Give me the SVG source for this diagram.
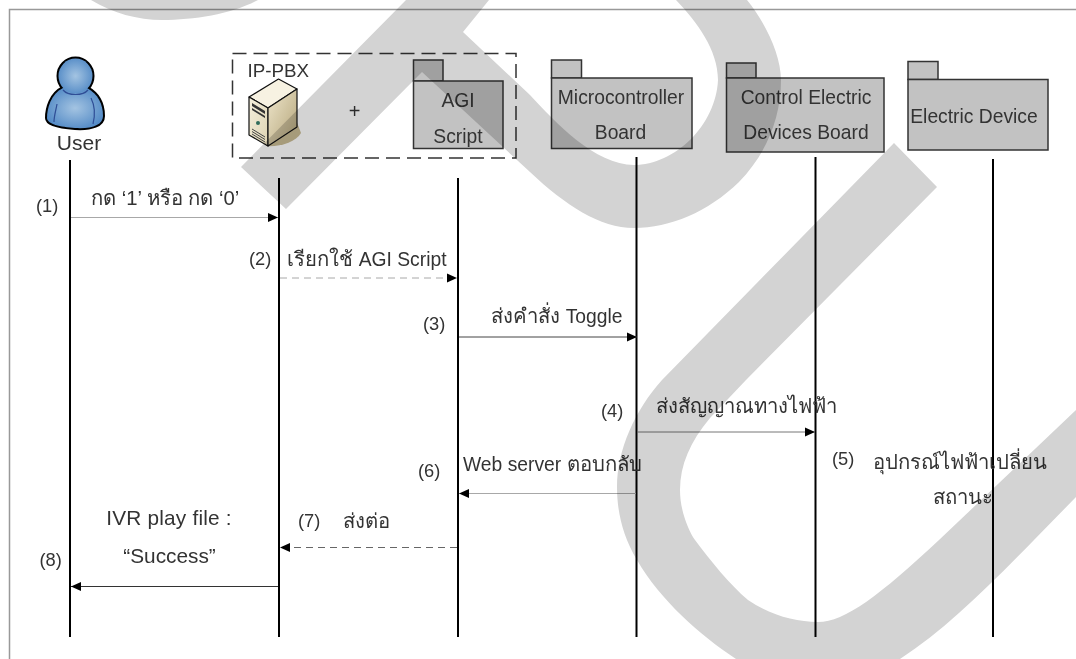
<svg xmlns="http://www.w3.org/2000/svg" width="1076" height="659" viewBox="0 0 1076 659">
<defs>
<style>
text{font-family:"Liberation Sans","Noto Sans",sans-serif;font-size:19.300px;fill:#333}
.c{text-anchor:middle}
.th{font-size:20.300px}
.la{font-size:19.300px}
.n{font-size:18.300px}
.pkg{fill:#c2c2c2;stroke:#333;stroke-width:1.500}
.life{stroke:#000;stroke-width:2;fill:none}
.msg{fill:none}
.dash{stroke-dasharray:7 5}
</style>
<marker id="ah" markerWidth="11" markerHeight="10" refX="10" refY="5" orient="auto" markerUnits="userSpaceOnUse"><path d="M0 0.500L10 5L0 9.500Z" fill="#000"/></marker>
<radialGradient id="ub" cx="50%" cy="50%" r="60%"><stop offset="0" stop-color="#a4c4e2"/><stop offset="1" stop-color="#4d86c4"/></radialGradient>
<linearGradient id="sf" x1="0" y1="0" x2="1" y2="1"><stop offset="0" stop-color="#f4efdc"/><stop offset="1" stop-color="#ddd3b2"/></linearGradient>
<linearGradient id="ss" x1="0" y1="0" x2="1" y2="1"><stop offset="0" stop-color="#efe6cc"/><stop offset="1" stop-color="#b3a478"/></linearGradient>
</defs>
<rect width="1076" height="659" fill="#fff"/>
<path d="M9.500 659V9.500H1076" fill="none" stroke="#999" stroke-width="1.500"/>
<g id="user">
<path d="M63 88C51 94 47 108 47 118C47 124 60 127 75 128C92 129 103 125 103 116C103 104 98 94 87 88Z" fill="#000" stroke="#000" stroke-width="4" stroke-linejoin="round"/>
<ellipse cx="75.500" cy="76" rx="17" ry="17.500" fill="#000" stroke="#000" stroke-width="4"/>
<path d="M63 88C51 94 47 108 47 118C47 124 60 127 75 128C92 129 103 125 103 116C103 104 98 94 87 88Z" fill="url(#ub)"/>
<ellipse cx="75.500" cy="76" rx="17" ry="17.500" fill="url(#ub)"/>
<path d="M63 90C68 96 83 96 88 90M57 104C56 110 54 116 54 122M91 98C95 106 95 116 93 124" fill="none" stroke="#2f4e96" stroke-width="1.200"/>
<text x="79" y="150" class="c" style="font-size:21px">User</text>
</g>
<g id="ip-pbx">
<rect x="232.500" y="53.500" width="283.500" height="104.500" fill="none" stroke="#333" stroke-width="1.500" stroke-dasharray="14 7"/>
<text x="247.500" y="77" style="font-size:18.800px">IP-PBX</text>
<path d="M266 146C280 147 296 142 301 133L296 120L266 132Z" fill="#c9bb93"/>
<path d="M249 97L278.500 79L297 89L268 108Z" fill="#f7f2e2" stroke="#111" stroke-width="1.200" stroke-linejoin="round"/>
<path d="M249 97L268 108V146L249 135Z" fill="url(#sf)" stroke="#111" stroke-width="1.200" stroke-linejoin="round"/>
<path d="M268 108L297 89V127L268 146Z" fill="url(#ss)" stroke="#111" stroke-width="1.200" stroke-linejoin="round"/>
<path d="M252 103L265 111V114L252 106ZM252 108L265 116V118L252 110Z" fill="#333"/>
<circle cx="258" cy="123" r="2" fill="#2f6b5a"/>
<path d="M252 129L265 137M252 131.500L265 139.500M252 134L265 142" stroke="#444" fill="none"/>
<text x="354.500" y="118" class="c" style="font-size:20px">+</text>
</g>
<g id="agi-script">
<rect class="pkg" x="413.500" y="60" width="29.500" height="21"/>
<rect class="pkg" x="413.500" y="81" width="89.500" height="67.500"/>
<text x="458" y="107" class="c">AGI</text>
<text x="458" y="143" class="c">Script</text>
</g>
<g id="microcontroller-board">
<rect class="pkg" x="551.500" y="60" width="30" height="18"/>
<rect class="pkg" x="551.500" y="78" width="140.500" height="70.500"/>
<text x="621" y="104" class="c">Microcontroller</text>
<text x="620.500" y="139" class="c">Board</text>
</g>
<g id="control-electric-devices-board">
<rect class="pkg" x="726.500" y="63" width="29.500" height="15"/>
<rect class="pkg" x="726.500" y="78" width="157.500" height="74"/>
<text x="806" y="104" class="c">Control Electric</text>
<text x="806" y="139" class="c">Devices Board</text>
</g>
<g id="electric-device">
<rect class="pkg" x="908" y="61.500" width="30" height="18"/>
<rect class="pkg" x="908" y="79.500" width="140" height="70.500"/>
<text x="974" y="123" class="c">Electric Device</text>
</g>
<g id="connectors">
<path class="life" d="M70 160V637"/>
<path class="life" d="M279 178V637"/>
<path class="life" d="M458 178V637"/>
<path class="life" d="M636.500 157V637"/>
<path class="life" d="M815.500 157V637"/>
<path class="life" d="M993 159V637"/>
<path class="msg" stroke="#a8a8a8" d="M71 217.500H278" marker-end="url(#ah)"/>
<path class="msg dash" stroke="#a8a8a8" d="M280 278H457" marker-end="url(#ah)"/>
<path class="msg" stroke="#444" d="M459 337H637" marker-end="url(#ah)"/>
<path class="msg" stroke="#777" d="M637 432H815" marker-end="url(#ah)"/>
<path class="msg" stroke="#a8a8a8" d="M636 493.500H459" marker-end="url(#ah)"/>
<path class="msg dash" stroke="#666" d="M457 547.500H280" marker-end="url(#ah)"/>
<path class="msg" stroke="#333" d="M278 586.500H71" marker-end="url(#ah)"/>
</g>
<g id="labels">
<text x="36" y="212" class="n">(1)</text>
<text x="91" y="205" class="th">กด ‘1’ หรือ กด ‘0’</text>
<text x="249" y="265" class="n">(2)</text>
<text x="287" y="266" class="th">เรียกใช้ <tspan class="la">AGI Script</tspan></text>
<text x="423" y="330" class="n">(3)</text>
<text x="491" y="323" class="th">ส่งคำสั่ง <tspan class="la">Toggle</tspan></text>
<text x="601" y="417" class="n">(4)</text>
<text x="656" y="413" class="th">ส่งสัญญาณทางไฟฟ้า</text>
<text x="418" y="477" class="n">(6)</text>
<text x="463" y="471" class="la">Web server <tspan class="th">ตอบกลับ</tspan></text>
<text x="832" y="465" class="n">(5)</text>
<text x="873" y="469" class="th">อุปกรณ์ไฟฟ้าเปลี่ยน</text>
<text x="933" y="504" class="th">สถานะ</text>
<text x="298" y="527" class="n">(7)</text>
<text x="343" y="528" class="th">ส่งต่อ</text>
<text x="169" y="525" class="c" style="font-size:20.800px;letter-spacing:.2px">IVR play file :</text>
<text x="169.500" y="563" class="c" style="font-size:20.800px">“Success”</text>
<text x="39.500" y="566" class="n">(8)</text>
</g>
<g id="watermark" style="mix-blend-mode:multiply" fill="#d3d3d3">
<path d="M91 0C112 13 138 20 162 20C195 20 232 14 258 0Z"/>
<path d="M406 0H489L463 32L530 95C555 122 595 165 634 165C675 165 716 125 718 80C718 50 697 22 676 0H747C765 22 781 55 781 80C781 120 765 155 739 182C708 212 670 228 634 228C600 228 565 205 530 172L422 72L286 209L241 167Z"/>
<path d="M894 143L937 187L746 380L710 418C690 442 680 465 680 490C680 510 688 530 695 540C710 560 730 585 748 600C770 615 795 622 818 622C845 622 880 595 939 540L1076 410V497L1034 540C990 585 945 630 900 659H736C700 635 660 600 637 560C622 535 617 510 617 487C617 450 635 410 662 380Z"/>
</g>
</svg>
